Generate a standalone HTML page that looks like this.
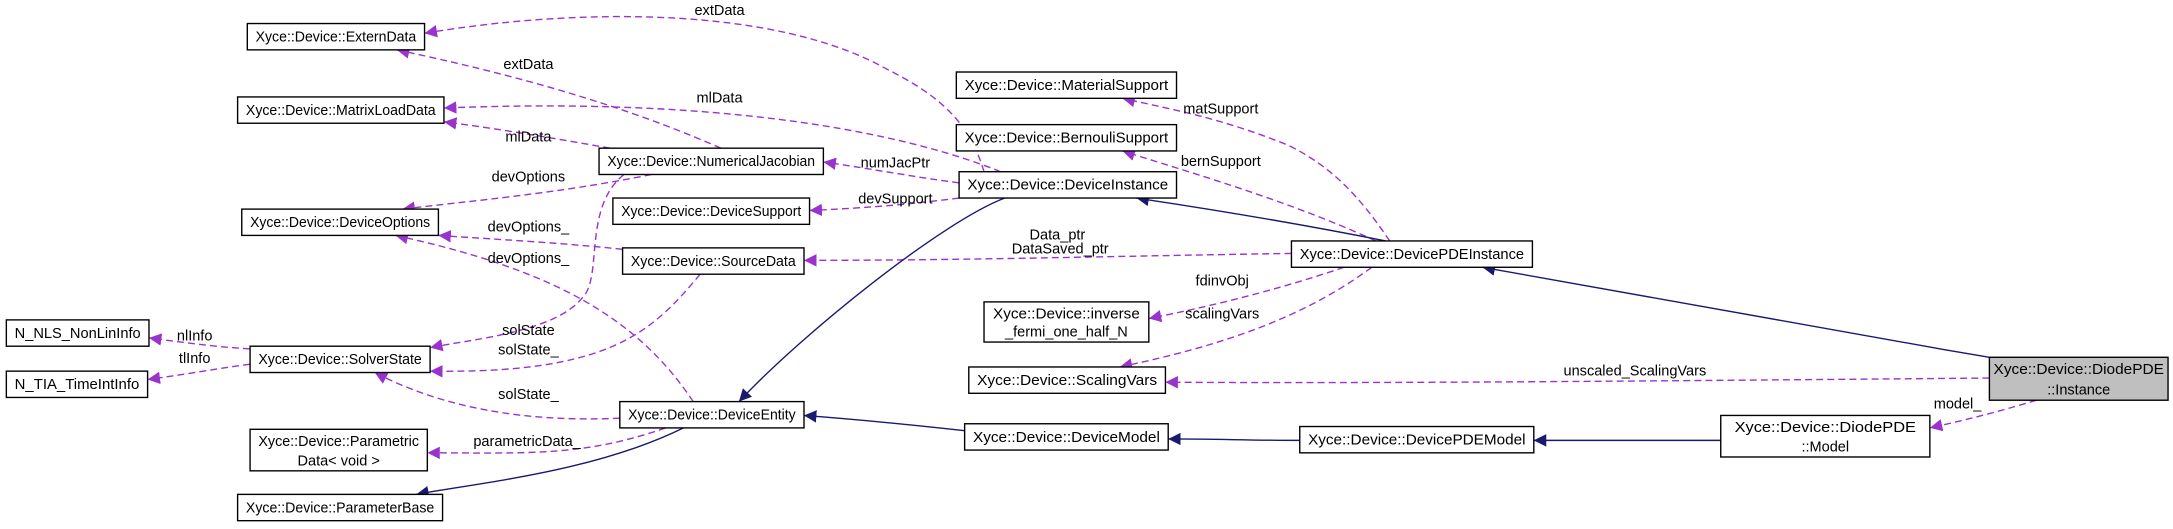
<!DOCTYPE html>
<html><head><meta charset="utf-8"><style>
html,body{margin:0;padding:0;background:#fff;}
svg{display:block;}
text{font-family:"Liberation Sans",sans-serif;font-size:10.5px;fill:#000;}
.b{fill:#fff;stroke:#000;stroke-width:1;}
.d{fill:none;stroke:#9a32cd;stroke-width:1;stroke-dasharray:5,3;}
.s{fill:none;stroke:#191970;stroke-width:1;}
</style></head><body>
<svg width="2173" height="529" viewBox="0 0 1568 382" xmlns="http://www.w3.org/2000/svg">
<defs>
<marker id="p" viewBox="0 0 10 10" refX="10" refY="5" markerWidth="9" markerHeight="9" orient="auto-start-reverse" markerUnits="userSpaceOnUse"><path d="M0,0L10,5L0,10z" fill="#9a32cd"/></marker>
<marker id="n" viewBox="0 0 10 10" refX="10" refY="5" markerWidth="9" markerHeight="9" orient="auto-start-reverse" markerUnits="userSpaceOnUse"><path d="M0,0L10,5L0,10z" fill="#191970"/></marker>
</defs>
<!-- dashed edges -->
<g class="d">
<path d="M710,124 C700,90 680,70 640,50 C560,5 420,5 306,24" marker-end="url(#p)"/>
<path d="M520,107 C470,85 400,60 286,36" marker-end="url(#p)"/>
<path d="M722,124 C650,95 520,70 320,78" marker-end="url(#p)"/>
<path d="M440,107 C400,100 360,93 320,88" marker-end="url(#p)"/>
<path d="M470,126 C400,140 340,145 290,151" marker-end="url(#p)"/>
<path d="M449,180 C400,175 360,173 316,170" marker-end="url(#p)"/>
<path d="M500,290 C460,230 400,195 285,170" marker-end="url(#p)"/>
<path d="M450,126 C420,150 435,200 420,215 C400,240 340,245 310,251" marker-end="url(#p)"/>
<path d="M505,198 C470,240 440,270 310,268" marker-end="url(#p)"/>
<path d="M447,302 C380,305 320,295 270,269" marker-end="url(#p)"/>
<path d="M180,252 C150,250 130,247 107,244" marker-end="url(#p)"/>
<path d="M180,263 C150,267 130,271 106,274" marker-end="url(#p)"/>
<path d="M480,309 C420,330 380,327 308,327" marker-end="url(#p)"/>
<path d="M692,132 C660,128 630,122 594,117" marker-end="url(#p)"/>
<path d="M692,143 C660,147 630,150 584,152" marker-end="url(#p)"/>
<path d="M932,183 C800,185 700,188 580,188" marker-end="url(#p)"/>
<path d="M1003,174 C980,140 960,120 930,105 C880,85 850,80 810,71" marker-end="url(#p)"/>
<path d="M993,174 C930,145 860,125 810,109" marker-end="url(#p)"/>
<path d="M970,193 C920,210 870,222 829,230" marker-end="url(#p)"/>
<path d="M990,193 C940,230 880,250 808,265" marker-end="url(#p)"/>
<path d="M1436,273 C1200,275 1000,277 841,276" marker-end="url(#p)"/>
<path d="M1470,289 C1440,298 1420,303 1393,309" marker-end="url(#p)"/>
</g>
<!-- solid edges -->
<g class="s">
<path d="M725,143 C680,160 580,240 533,290" marker-end="url(#n)"/>
<path d="M1000,174 C940,162 880,152 820,143" marker-end="url(#n)"/>
<path d="M493,309 C430,340 350,348 300,357" marker-end="url(#n)"/>
<path d="M696,311 C660,307 620,303 580,300" marker-end="url(#n)"/>
<path d="M938,318 C900,318 880,317 843,317" marker-end="url(#n)"/>
<path d="M1242,318 C1200,318 1150,318 1107,318" marker-end="url(#n)"/>
<path d="M1436,258 C1300,235 1160,210 1070,193" marker-end="url(#n)"/>
</g>
<!-- edge labels -->
<g text-anchor="middle">
<text x="519" y="11">extData</text>
<text x="381" y="50">extData</text>
<text x="519" y="74">mlData</text>
<text x="381" y="102">mlData</text>
<text x="381" y="131">devOptions</text>
<text x="381" y="167">devOptions_</text>
<text x="381" y="190">devOptions_</text>
<text x="381" y="242">solState</text>
<text x="381" y="256">solState_</text>
<text x="381" y="288">solState_</text>
<text x="140" y="246">nlInfo</text>
<text x="140" y="262">tlInfo</text>
<text x="380" y="322">parametricData_</text>
<text x="646" y="121">numJacPtr</text>
<text x="646" y="147">devSupport</text>
<text x="763" y="173">Data_ptr</text>
<text x="765" y="183">DataSaved_ptr</text>
<text x="881" y="82">matSupport</text>
<text x="881" y="120">bernSupport</text>
<text x="882" y="206">fdinvObj</text>
<text x="882" y="230">scalingVars</text>
<text x="1180" y="271">unscaled_ScalingVars</text>
<text x="1413" y="295">model_</text>
</g>
<!-- nodes -->
<g>
<rect class="b" x="178" y="17" width="128" height="19"/>
<rect class="b" x="171" y="70" width="149" height="19"/>
<rect class="b" x="174" y="151" width="142" height="19"/>
<rect class="b" x="4" y="231" width="103" height="19"/>
<rect class="b" x="4" y="268" width="102" height="19"/>
<rect class="b" x="180" y="250" width="130" height="19"/>
<rect class="b" x="180" y="310" width="128" height="30"/>
<rect class="b" x="171" y="357" width="148" height="19"/>
<rect class="b" x="432" y="107" width="162" height="19"/>
<rect class="b" x="442" y="143" width="142" height="19"/>
<rect class="b" x="449" y="179" width="131" height="19"/>
<rect class="b" x="447" y="290" width="133" height="19"/>
<rect class="b" x="690" y="52" width="159" height="19"/>
<rect class="b" x="690" y="90" width="159" height="19"/>
<rect class="b" x="692" y="124" width="157" height="19"/>
<rect class="b" x="710" y="218" width="119" height="29"/>
<rect class="b" x="699" y="265" width="142" height="19"/>
<rect class="b" x="696" y="306" width="147" height="19"/>
<rect class="b" x="932" y="174" width="174" height="19"/>
<rect class="b" x="938" y="308" width="169" height="19"/>
<rect class="b" x="1242" y="300" width="151" height="30"/>
<rect x="1436" y="258" width="129" height="31" fill="#bfbfbf" stroke="#000"/>
</g>
<g text-anchor="middle" lengthAdjust="spacingAndGlyphs">
<text x="242" y="30" textLength="116" lengthAdjust="spacingAndGlyphs">Xyce::Device::ExternData</text>
<text x="245.5" y="83" textLength="137" lengthAdjust="spacingAndGlyphs">Xyce::Device::MatrixLoadData</text>
<text x="245" y="164" textLength="130" lengthAdjust="spacingAndGlyphs">Xyce::Device::DeviceOptions</text>
<text x="55.5" y="244" textLength="91" lengthAdjust="spacingAndGlyphs">N_NLS_NonLinInfo</text>
<text x="55" y="281" textLength="90" lengthAdjust="spacingAndGlyphs">N_TIA_TimeIntInfo</text>
<text x="245" y="263" textLength="118" lengthAdjust="spacingAndGlyphs">Xyce::Device::SolverState</text>
<text x="244" y="322" textLength="116" lengthAdjust="spacingAndGlyphs">Xyce::Device::Parametric</text>
<text x="244" y="336">Data&lt; void &gt;</text>
<text x="245" y="370" textLength="136" lengthAdjust="spacingAndGlyphs">Xyce::Device::ParameterBase</text>
<text x="513" y="120" textLength="150" lengthAdjust="spacingAndGlyphs">Xyce::Device::NumericalJacobian</text>
<text x="513" y="156" textLength="130" lengthAdjust="spacingAndGlyphs">Xyce::Device::DeviceSupport</text>
<text x="514.5" y="192" textLength="119" lengthAdjust="spacingAndGlyphs">Xyce::Device::SourceData</text>
<text x="513.5" y="303" textLength="121" lengthAdjust="spacingAndGlyphs">Xyce::Device::DeviceEntity</text>
<text x="769.5" y="65" textLength="147" lengthAdjust="spacingAndGlyphs">Xyce::Device::MaterialSupport</text>
<text x="769.5" y="103" textLength="147" lengthAdjust="spacingAndGlyphs">Xyce::Device::BernouliSupport</text>
<text x="770.5" y="137" textLength="145" lengthAdjust="spacingAndGlyphs">Xyce::Device::DeviceInstance</text>
<text x="769.5" y="230" textLength="106" lengthAdjust="spacingAndGlyphs">Xyce::Device::inverse</text>
<text x="769.5" y="243">_fermi_one_half_N</text>
<text x="770" y="278" textLength="130" lengthAdjust="spacingAndGlyphs">Xyce::Device::ScalingVars</text>
<text x="769.5" y="319" textLength="135" lengthAdjust="spacingAndGlyphs">Xyce::Device::DeviceModel</text>
<text x="1019" y="187" textLength="162" lengthAdjust="spacingAndGlyphs">Xyce::Device::DevicePDEInstance</text>
<text x="1022.5" y="321" textLength="157" lengthAdjust="spacingAndGlyphs">Xyce::Device::DevicePDEModel</text>
<text x="1317.5" y="312" textLength="131" lengthAdjust="spacingAndGlyphs">Xyce::Device::DiodePDE</text>
<text x="1317.5" y="326">::Model</text>
<text x="1500.5" y="270" textLength="123" lengthAdjust="spacingAndGlyphs">Xyce::Device::DiodePDE</text>
<text x="1500.5" y="285">::Instance</text>
</g>
</svg>
</body></html>
